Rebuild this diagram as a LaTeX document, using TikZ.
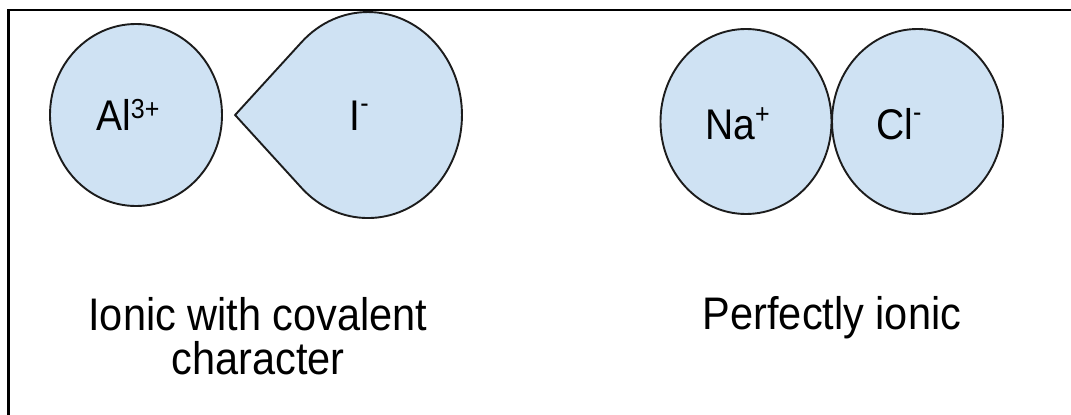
\documentclass[tikz,border=0pt]{standalone}
\usepackage{fontspec}
\setmainfont{Liberation Sans}
\usepackage{graphicx}
\usetikzlibrary{shapes.geometric}
\definecolor{ionfill}{HTML}{CFE2F3}
\definecolor{ionline}{HTML}{1C1C1C}
\newcommand\ionsup[2]{\raisebox{#1pt}{\fontsize{25}{25}\selectfont #2}}
\begin{document}
\begin{tikzpicture}[x=1pt,y=-1pt,
  ionbox/.style={ellipse, draw=ionline, line width=1.9pt, fill=ionfill, inner sep=0pt},
  dropbox/.style={draw=ionline, line width=1.9pt, fill=ionfill, line join=miter},
  lbltxt/.style={inner sep=0pt, anchor=base west, font=\fontsize{39}{39}\selectfont},
  captxt/.style={inner sep=0pt, anchor=base, font=\fontsize{41.5}{33.6}\selectfont},
  frameline/.style={draw=black, line width=2.6pt}]
\useasboundingbox (0,0) rectangle (1071,415);
% frame (only top and left edges visible)
\coordinate (fbl) at (8.5,416);
\coordinate (ftl) at (8.5,10);
\coordinate (ftr) at (1072,10);
\draw[frameline] (fbl) -- (ftl) -- (ftr);
% ions
\node[ionbox, minimum width=172pt, minimum height=182pt] (al) at (136,115) {};
\coordinate (tip) at (235.1,115);
\coordinate (up) at (301.5,42.2);
\path[dropbox] (tip) -- (up) arc[start angle=225, end angle=495, x radius=94, y radius=103] -- cycle;
\node[ionbox, minimum width=171pt, minimum height=185pt] (na) at (746,121.5) {};
\node[ionbox, minimum width=171pt, minimum height=185pt] (cl) at (917.5,121.5) {};
% labels
\node[lbltxt] (altext) at (96,130.7) {\scalebox{1}[1.1]{Al\ionsup{11}{3+}}};
\node[lbltxt] (itext) at (349.3,130.7) {\scalebox{1}[1.1]{I\ionsup{16.5}{-}}};
\node[lbltxt] (natext) at (705,139.3) {\scalebox{1}[1.1]{Na\ionsup{14.5}{+}}};
\node[lbltxt] (cltext) at (876,139.3) {\scalebox{1}[1.1]{Cl\ionsup{16.5}{-}}};
% captions
\node[captxt] (cap1) at (258,330) {\scalebox{1}[1.1]{\begin{tabular}[t]{@{}c@{}}Ionic with covalent\\character\end{tabular}}};
\node[captxt] (cap2) at (832,329) {\scalebox{1}[1.1]{Perfectly ionic}};
\end{tikzpicture}
\end{document}
